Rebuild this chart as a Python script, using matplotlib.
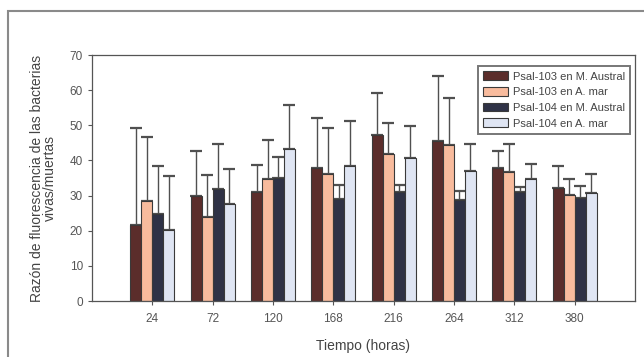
import numpy as np
import matplotlib
matplotlib.use("Agg")
import matplotlib.pyplot as plt
from matplotlib.patches import Rectangle

# --- datos ---
tiempos = ["24", "72", "120", "168", "216", "264", "312", "380"]
series = ["Psal-103 en M. Austral", "Psal-103 en A. mar",
          "Psal-104 en M. Austral", "Psal-104 en A. mar"]

p103_austral = [21.7, 29.9, 30.9, 37.8, 47.2, 45.4, 37.9, 32.1]
p103_amar = [28.5, 24.0, 34.8, 36.2, 41.7, 44.4, 36.7, 30.3]
p104_austral = [24.7, 32.0, 34.9, 29.0, 31.0, 28.7, 30.9, 29.2]
p104_amar = [20.1, 27.5, 43.3, 38.5, 40.6, 37.1, 34.7, 30.8]

# extremo superior de las barras de error
p103_austral_err = [49.2, 42.8, 38.8, 52.2, 59.1, 63.9, 42.6, 38.5]
p103_amar_err = [46.7, 35.8, 45.7, 49.2, 50.7, 57.9, 44.8, 34.7]
p104_austral_err = [38.4, 44.8, 41.0, 32.9, 33.1, 31.4, 32.3, 32.8]
p104_amar_err = [35.7, 37.5, 55.8, 51.2, 49.7, 44.8, 39.0, 36.0]

valores = [p103_austral, p103_amar, p104_austral, p104_amar]
errores = [p103_austral_err, p103_amar_err, p104_austral_err, p104_amar_err]
colores = ["#5b2d2b", "#f8bb9d", "#2f3246", "#dfe5f3"]

plt.rcParams['font.family'] = ['Liberation Sans', 'DejaVu Sans']

fig = plt.figure(figsize=(6.44, 3.57), dpi=100)
ax = fig.add_axes([92/644, 1 - 301/357, (635 - 92)/644, (301 - 55)/357])

x = np.arange(len(tiempos))
w = 0.182
for i, (vals, errs, col, nombre) in enumerate(zip(valores, errores, colores, series)):
    pos = x + (i - 1.5) * w
    vals = np.array(vals)
    up = np.array(errs) - vals
    ax.bar(pos, vals, w, color=col, edgecolor="#3a3a3a", linewidth=0.8, label=nombre, zorder=2)
    ax.errorbar(pos, vals, yerr=[np.zeros_like(up), up], fmt="none",
                ecolor="#505050", elinewidth=1.0, capsize=4, capthick=1.6, zorder=1)

ax.set_xlim(-1, 8)
ax.set_ylim(0, 70)
ax.set_yticks(range(0, 71, 10))
ax.set_xticks(x)
ax.set_xticklabels(tiempos)
ax.tick_params(axis="both", direction="out", length=3, width=0.8, colors="#555555",
               labelsize=8.5, labelcolor="#555555")
ax.tick_params(axis="x", pad=6)
for s in ax.spines.values():
    s.set_color("#555555")
    s.set_linewidth(0.9)

ax.set_xlabel("Tiempo (horas)", fontsize=10, color="#444444", labelpad=10)
ax.set_ylabel("Razón de fluorescencia de las bacterias\nvivas/muertas",
              fontsize=10, color="#444444", labelpad=9, linespacing=0.92)

leg = ax.legend(loc="upper right", bbox_to_anchor=(0.9975, 0.967), fontsize=8,
                frameon=True, fancybox=False, borderpad=0.45, labelspacing=0.5,
                handlelength=2.25, handleheight=0.8, handletextpad=0.45,
                borderaxespad=0.3)
leg.get_frame().set_edgecolor("#555555")
leg.get_frame().set_linewidth(1.4)
for t in leg.get_texts():
    t.set_color("#444444")

# marco exterior de la figura
fig.patches.append(Rectangle((8/644, -0.05), 1.0, 1 - 11/357 + 0.05, transform=fig.transFigure,
                             fill=False, edgecolor="#8a8a8a", linewidth=1.5))

fig.savefig("out.png", dpi=100)
